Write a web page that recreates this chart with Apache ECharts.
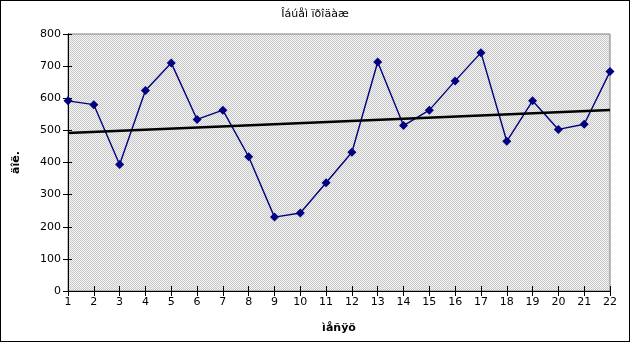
<!DOCTYPE html>
<html><head><meta charset="utf-8">
<script src="https://cdn.jsdelivr.net/npm/echarts@6/dist/echarts.min.js"></script>
<style>
html,body{margin:0;padding:0;background:#fff;}
#c{width:630px;height:342px;box-sizing:border-box;border:1px solid #000;}
</style></head>
<body><div id="c"></div>
<script>
var titleText = 'Îáúåì ïðîäàæ';
var xName = 'ìåñÿö';
var yName = 'äîë.';
var months = [1,2,3,4,5,6,7,8,9,10,11,12,13,14,15,16,17,18,19,20,21,22];
var sales = [592,580,394,624,710,534,563,418,230,243,337,432,713,515,563,654,742,466,592,503,519,683];

// linear trend (least squares) computed from data
var n = months.length, sx=0, sy=0, sxy=0, sxx=0;
for (var i=0;i<n;i++){ sx+=months[i]; sy+=sales[i]; sxy+=months[i]*sales[i]; sxx+=months[i]*months[i]; }
var slope = (n*sxy - sx*sy)/(n*sxx - sx*sx);
var icpt = (sy - slope*sx)/n;
var x0 = months[0], x1 = months[n-1];
var trend = [[x0, icpt+slope*x0],[x1, icpt+slope*x1]];

var cv = document.createElement('canvas'); cv.width=2; cv.height=2;
var cx = cv.getContext('2d');
cx.fillStyle='#f4f4f4'; cx.fillRect(0,0,2,2);
cx.fillStyle='#c8c8c8'; cx.fillRect(0,0,1,1); cx.fillRect(1,1,1,1);

var font = 'DejaVu Sans, Verdana, sans-serif';
var chart = echarts.init(document.getElementById('c'), null, {renderer:'canvas'});
var xBase = {type:'value', min:1, max:22, interval:1, position:'bottom',
  axisLine:{lineStyle:{color:'#000',width:1}}, splitLine:{show:false}};
var yBase = {type:'value', min:0, max:800, interval:100, position:'left',
  axisLine:{show:true,lineStyle:{color:'#000',width:1}}, splitLine:{show:false}};
chart.setOption({
  animation:false,
  title:{text:titleText, left:'center', top:3, textStyle:{fontFamily:font,fontSize:11,fontWeight:'normal',color:'#000'}},
  grid:{left:67, right:19, top:33, bottom:50, show:true, borderColor:'#808080', borderWidth:1,
    backgroundColor:{image:cv, repeat:'repeat'}},
  xAxis:[
    Object.assign({}, xBase, {name:xName, nameLocation:'middle', nameGap:32,
      nameTextStyle:{fontFamily:font,fontSize:11,fontWeight:'bold',color:'#000'},
      axisTick:{show:true,inside:false,length:5,lineStyle:{color:'#000'}},
      axisLabel:{fontFamily:font,fontSize:11,color:'#000',margin:6}}),
    Object.assign({}, xBase, {axisTick:{show:true,inside:true,length:5,lineStyle:{color:'#000'}},
      axisLabel:{show:false}})
  ],
  yAxis:[
    Object.assign({}, yBase, {name:yName, nameLocation:'middle', nameGap:46, nameRotate:90,
      nameTextStyle:{fontFamily:font,fontSize:11,fontWeight:'bold',color:'#000'},
      axisTick:{show:true,inside:false,length:5,lineStyle:{color:'#000'}},
      axisLabel:{fontFamily:font,fontSize:11,color:'#000',margin:7}}),
    Object.assign({}, yBase, {axisTick:{show:true,inside:true,length:4,lineStyle:{color:'#000'}},
      axisLabel:{show:false}})
  ],
  series:[
    {type:'line', xAxisIndex:0, yAxisIndex:0, data:months.map(function(m,i){return [m,sales[i]];}),
      symbol:'diamond', symbolSize:9, itemStyle:{color:'#000080'},
      lineStyle:{color:'#000080',width:1.4}, z:3},
    {type:'line', xAxisIndex:0, yAxisIndex:0, data:trend, symbol:'none',
      lineStyle:{color:'#000',width:2.5}, z:4}
  ]
});
</script></body></html>
